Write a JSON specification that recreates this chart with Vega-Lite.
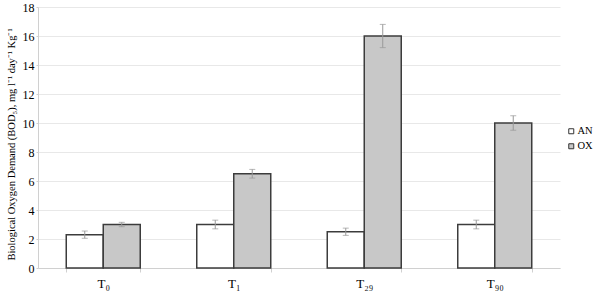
{
  "$schema": "https://vega.github.io/schema/vega-lite/v6.json",
  "width": 522,
  "height": 261,
  "autosize": {"type": "none"},
  "padding": {"left": 38, "top": 7, "right": 35, "bottom": 26},
  "background": "white",
  "config": {
    "font": "Liberation Serif",
    "view": {"stroke": null},
    "axisY": {
      "labelFontSize": 12, "labelColor": "#000", "labelPadding": 2,
      "tickSize": 2, "tickColor": "#d0d0d0", "domainColor": "#d0d0d0",
      "gridColor": "#e8e8e8", "labelOverlap": false,
      "titleFontSize": 10.5, "titleFontWeight": "normal", "titleColor": "#000",
      "titleX": -27, "titleY": 137, "titleAngle": -90, "titleAlign": "center", "titleBaseline": "middle"
    }
  },
  "data": {"values": [
    {"time": "T₀", "group": "AN", "value": 2.3, "lo": 2.05, "hi": 2.55},
    {"time": "T₀", "group": "OX", "value": 3.0, "lo": 2.85, "hi": 3.15},
    {"time": "T₁", "group": "AN", "value": 3.0, "lo": 2.7, "hi": 3.3},
    {"time": "T₁", "group": "OX", "value": 6.5, "lo": 6.2, "hi": 6.8},
    {"time": "T₂₉", "group": "AN", "value": 2.5, "lo": 2.25, "hi": 2.75},
    {"time": "T₂₉", "group": "OX", "value": 16.0, "lo": 15.2, "hi": 16.8},
    {"time": "T₉₀", "group": "AN", "value": 3.0, "lo": 2.7, "hi": 3.3},
    {"time": "T₉₀", "group": "OX", "value": 10.0, "lo": 9.5, "hi": 10.5}
  ]},
  "encoding": {
    "x": {
      "field": "time", "type": "nominal",
      "sort": ["T₀", "T₁", "T₂₉", "T₉₀"],
      "scale": {"paddingInner": 0.433, "paddingOuter": 0.2165},
      "axis": {
        "title": null, "labelAngle": 0, "labelFontSize": 13, "labelColor": "#000",
        "labelPadding": 5, "tickBand": "extent", "tickSize": 4,
        "tickColor": "#d0d0d0", "domainColor": "#d0d0d0"
      }
    },
    "xOffset": {"field": "group", "type": "nominal", "sort": ["AN", "OX"]}
  },
  "layer": [
    {
      "mark": {"type": "bar", "stroke": "#3c3c3c", "strokeWidth": 1.5},
      "encoding": {
        "y": {
          "field": "value", "type": "quantitative",
          "scale": {"domain": [0, 18], "nice": false},
          "axis": {
            "values": [0, 2, 4, 6, 8, 10, 12, 14, 16, 18],
            "title": "Biological Oxygen Demand (BOD₅), mg l⁻¹ day⁻¹ Kg⁻¹"
          }
        },
        "fill": {
          "field": "group", "type": "nominal",
          "scale": {"domain": ["AN", "OX"], "range": ["#ffffff", "#c8c8c8"]},
          "legend": {
            "title": null, "orient": "none", "legendX": 528, "legendY": 119,
            "symbolType": "square", "symbolSize": 25, "symbolStrokeColor": "#333",
            "symbolStrokeWidth": 1, "labelFontSize": 10.5, "labelColor": "#000",
            "labelOffset": 1, "rowPadding": 4, "padding": 0
          }
        }
      }
    },
    {
      "mark": {"type": "rule", "color": "#999999", "strokeWidth": 1},
      "encoding": {
        "y": {"field": "lo", "type": "quantitative", "axis": {"values": [0, 2, 4, 6, 8, 10, 12, 14, 16, 18], "title": "Biological Oxygen Demand (BOD₅), mg l⁻¹ day⁻¹ Kg⁻¹"}},
        "y2": {"field": "hi"}
      }
    },
    {
      "mark": {"type": "tick", "color": "#999999", "size": 6, "thickness": 1},
      "encoding": {"y": {"field": "lo", "type": "quantitative", "axis": {"values": [0, 2, 4, 6, 8, 10, 12, 14, 16, 18], "title": "Biological Oxygen Demand (BOD₅), mg l⁻¹ day⁻¹ Kg⁻¹"}}}
    },
    {
      "mark": {"type": "tick", "color": "#999999", "size": 6, "thickness": 1},
      "encoding": {"y": {"field": "hi", "type": "quantitative", "axis": {"values": [0, 2, 4, 6, 8, 10, 12, 14, 16, 18], "title": "Biological Oxygen Demand (BOD₅), mg l⁻¹ day⁻¹ Kg⁻¹"}}}
    }
  ]
}
